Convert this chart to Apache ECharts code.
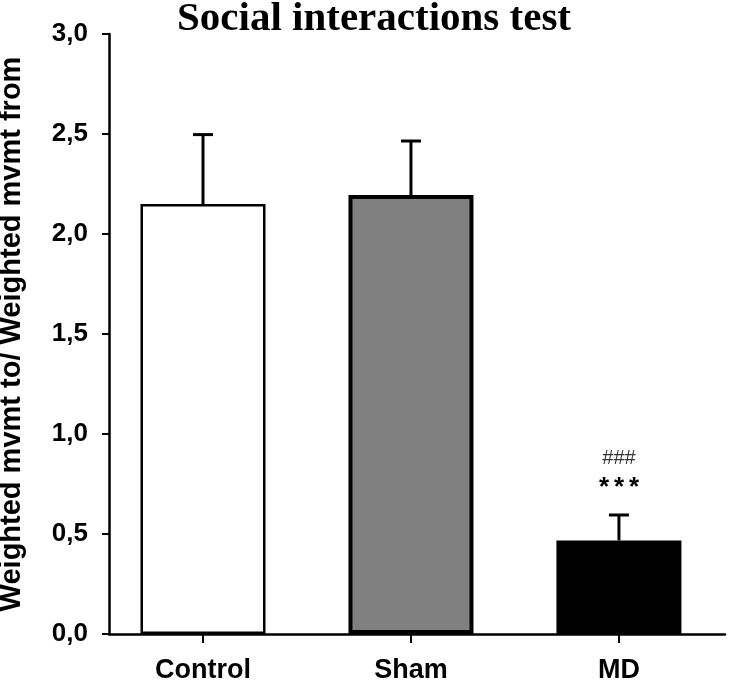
<!DOCTYPE html>
<html>
<head>
<meta charset="utf-8">
<script src="https://cdn.jsdelivr.net/npm/echarts@6/dist/echarts.min.js"></script>
<style>html,body{margin:0;padding:0;background:#fff;}#c{width:731px;height:683px;}</style>
</head>
<body>
<div id="c"></div>
<script>
const categories = ['Control', 'Sham', 'MD'];
const means = [2.15, 2.195, 0.468];
const errors = [0.347, 0.27, 0.127];
const annotations = [['', ''], ['', ''], ['###', '***']];
const titleText = 'Social interactions test';
const yName = 'Weighted mvmt to/ Weighted mvmt from';

const fills = ['#ffffff', '#808080', '#000000'];
const borders = [2.5, 4, 2];

const chart = echarts.init(document.getElementById('c'));
const catIdx = categories.map((c, i) => i);

chart.setOption({
  animation: false,
  backgroundColor: '#ffffff',
  title: {
    text: titleText,
    left: 172, top: -6,
    textStyle: { fontFamily: 'Liberation Serif', fontWeight: 'bold', fontSize: 41, color: '#000' }
  },
  grid: { left: 109, right: 6, top: 34, bottom: 49, containLabel: false, outerBoundsMode: 'none' },
  xAxis: {
    type: 'value', min: -0.452, max: 2.51,
    splitLine: { show: false },
    axisLine: { show: true, onZero: false, lineStyle: { color: '#000', width: 2.5 } },
    axisTick: { show: true, customValues: catIdx, length: 9, lineStyle: { color: '#000', width: 2 } },
    axisLabel: {
      customValues: catIdx,
      formatter: v => categories[Math.round(v)] || '',
      margin: 23, color: '#000', fontFamily: 'Liberation Sans', fontWeight: 'bold', fontSize: 27
    }
  },
  yAxis: {
    type: 'value', min: 0, max: 3, interval: 0.5,
    name: yName, nameLocation: 'middle', nameGap: 83,
    nameTextStyle: { fontFamily: 'Liberation Sans', fontWeight: 'bold', fontSize: 29, color: '#000' },
    splitLine: { show: false },
    axisLine: { show: true, onZero: false, lineStyle: { color: '#000', width: 2.5 } },
    axisTick: { show: true, inside: false, length: 7, lineStyle: { color: '#000', width: 2 } },
    axisLabel: {
      margin: 21, color: '#000', fontFamily: 'Liberation Sans', fontWeight: 'bold', fontSize: 26,
      formatter: v => v.toFixed(1).replace('.', ',')
    }
  },
  series: [
    {
      type: 'bar', barWidth: 125,
      data: means.map((m, i) => ({
        value: [i, m],
        itemStyle: { color: fills[i], borderColor: '#000', borderWidth: borders[i] }
      })),
      z: 2
    },
    {
      type: 'custom',
      data: means.map((m, i) => [i, m, errors[i]]),
      z: 1,
      renderItem: (params, api) => {
        const x = api.value(0), m = api.value(1), e = api.value(2);
        const p0 = api.coord([x, m]);
        const p1 = api.coord([x, m + e]);
        const children = [
          { type: 'line', shape: { x1: p0[0], y1: p0[1], x2: p1[0], y2: p1[1] }, style: { stroke: '#000', lineWidth: 3 } },
          { type: 'line', shape: { x1: p1[0] - 10, y1: p1[1], x2: p1[0] + 10, y2: p1[1] }, style: { stroke: '#000', lineWidth: 3 } }
        ];
        const ann = annotations[x];
        if (ann[0]) {
          children.push({ type: 'text', style: { text: ann[0], x: p1[0], y: p1[1] - 57, align: 'center', verticalAlign: 'middle', font: '20px "Liberation Sans"', fill: '#333' } });
        }
        if (ann[1]) {
          const chars = ann[1].split('');
          chars.forEach((ch, k) => {
            children.push({ type: 'text', style: { text: ch, x: p1[0] + (k - (chars.length - 1) / 2) * 15, y: p1[1] - 27, align: 'center', verticalAlign: 'middle', font: 'bold 26px "Liberation Sans"', fill: '#000' } });
          });
        }
        return { type: 'group', children };
      }
    }
  ]
});
</script>
</body>
</html>
